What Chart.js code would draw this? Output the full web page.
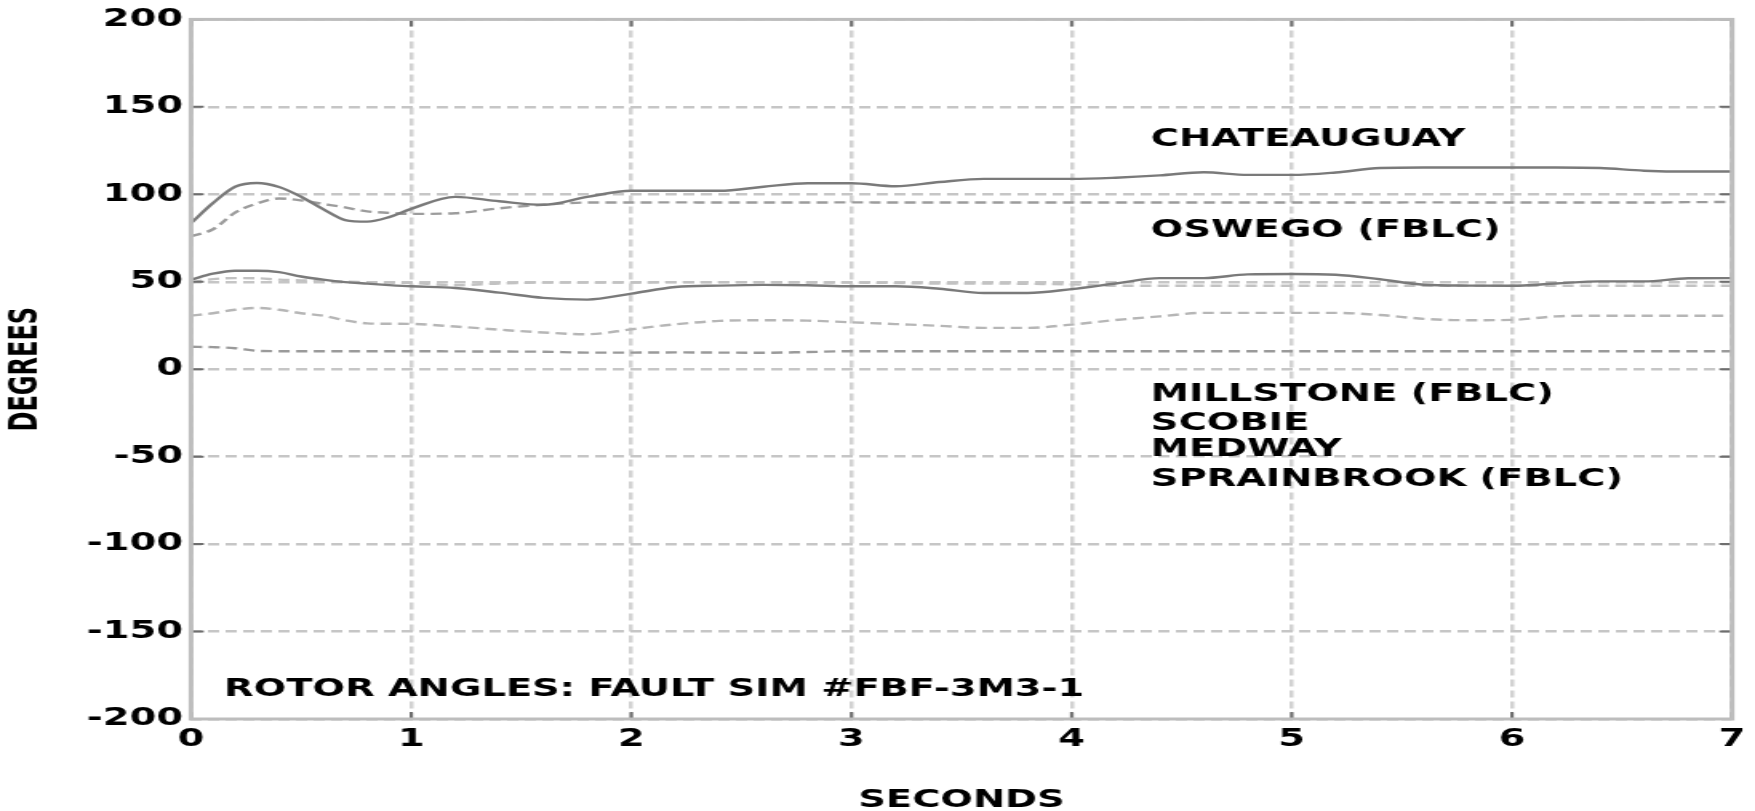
<!DOCTYPE html>
<html><head><meta charset="utf-8">
<script src="https://cdn.jsdelivr.net/npm/chart.js@4"></script>
<style>
html,body{margin:0;padding:0;background:#fff;overflow:hidden;width:1755px;height:811px;}
#wrap{width:1097px;height:811px;transform:scaleX(1.599818);transform-origin:0 0;}
canvas{display:block;}
</style></head><body>
<div id="wrap"><canvas id="c" width="1097" height="811"></canvas></div>
<script>
// ---- data ----
const seconds = [0,0.1,0.2,0.3,0.4,0.5,0.6,0.7,0.8,0.9,1.0,1.2,1.4,1.6,1.8,2.0,2.2,2.4,2.6,2.8,3.0,3.2,3.4,3.6,3.8,4.0,4.2,4.4,4.6,4.8,5.0,5.2,5.4,5.6,5.8,6.0,6.2,6.4,6.6,6.8,7.0];
const chateauguay = [83.5,95,104.3,106.5,104.2,98.6,91.5,85.3,84.4,87,91.7,98.5,96,94,98.5,102,102,102,104.3,106.3,106.3,104.6,107,108.8,108.8,108.8,109.5,110.8,112.6,111.1,111.1,112.5,115,115.3,115.3,115.3,115.3,115,113.5,113,113];
const oswego = [75.9,80,89.5,94.8,97.6,96.5,94.5,92.5,90.2,89.4,88.8,89.2,92,94,95.3,95.3,95.4,95.3,95.3,95.3,95.4,95.3,95.3,95.3,95.3,95.3,95.3,95.3,95.3,95.3,95.3,95.3,95.3,95.4,95.3,95.3,95.3,95.3,95.3,95.5,95.6];
const millstone = [51.2,54.6,56.3,56.3,55.5,53,51.2,49.8,48.9,48.1,47.4,46.4,43.8,40.8,39.8,43.2,47,47.8,48.2,48,47.4,47.4,46,43.6,43.6,45.8,49,52.1,52.1,54.2,54.4,54,51.4,48.3,47.8,47.7,49,50.2,50.2,52,52.1];
const scobie = [49.6,51.5,52.1,52,51.2,50.8,50.4,50.1,49.8,49.5,49.3,48,49,49.5,49.5,49.5,49.8,49.8,49.8,49.6,49.5,49.3,49,49,48.8,48.5,47.7,47.7,47.7,47.7,47.7,47.7,47.7,47.7,47.7,47.7,47.7,47.7,47.7,47.7,47.7];
const medway = [30.6,32,34,35,34,32,30.6,28,26.2,26,25.9,24.4,22.6,21,20,22.8,25.7,27.6,28,27.8,26.8,25.8,24.8,23.6,23.6,25.5,28.1,30.2,32.2,32.2,32.2,32.2,31,28.8,28,28.2,30.2,30.6,30.6,30.6,30.6];
const sprainbrook = [12.8,12.6,12,10.5,10.3,10.3,10.3,10.3,10.3,10.3,10.3,10.2,10.1,10,9.5,9.5,9.6,9.5,9.4,9.8,10.3,10.3,10.3,10.3,10.3,10.3,10.3,10.3,10.3,10.3,10.3,10.3,10.3,10.3,10.3,10.3,10.3,10.3,10.3,10.3,10.3];

const xTicks = [0,1,2,3,4,5,6,7];
const yTicks = [-200,-150,-100,-50,0,50,100,150,200];
const xTitle = 'SECONDS';
const yTitle = 'DEGREES';

const noteTexts = ['CHATEAUGUAY','OSWEGO (FBLC)','MILLSTONE (FBLC)','SCOBIE','MEDWAY','SPRAINBROOK (FBLC)','ROTOR ANGLES: FAULT SIM #FBF-3M3-1'];
const noteSeconds = [4.36,4.36,4.36,4.36,4.36,4.36,0.15];
const noteDegrees = [131.2,79,-14.9,-31.4,-46.3,-63.2,-183.3];

// ---- chart ----
const FONT = "'DejaVu Sans'";
const pts = arr => seconds.map((t,i)=>({x:t,y:arr[i]}));
const series = (data, color, dash) => ({data: pts(data), borderColor: color, borderWidth: 2.4, borderDash: dash, pointRadius: 0, fill: false, cubicInterpolationMode: 'monotone'});

const framePlugin = {
  id: 'frame',
  afterDatasetsDraw(chart) {
    const {ctx, chartArea: a, scales: {x, y}} = chart;
    ctx.save();
    ctx.setLineDash([]);
    ctx.strokeStyle = '#6e6e6e'; ctx.lineWidth = 2;
    ctx.beginPath();
    y.ticks.forEach(t => { const py = y.getPixelForValue(t.value);
      ctx.moveTo(a.left, py); ctx.lineTo(a.left + 8, py);
      ctx.moveTo(a.right - 8, py); ctx.lineTo(a.right, py); });
    x.ticks.forEach(t => { const px = x.getPixelForValue(t.value);
      ctx.moveTo(px, a.bottom); ctx.lineTo(px, a.bottom - 7);
      ctx.moveTo(px, a.top); ctx.lineTo(px, a.top + 7); });
    ctx.stroke();
    ctx.strokeStyle = '#bdbdbd'; ctx.lineWidth = 3;
    ctx.strokeRect(a.left, a.top, a.right - a.left, a.bottom - a.top);
    ctx.restore();
  }
};
const notesPlugin = {
  id: 'notes',
  afterDraw(chart) {
    const {ctx, scales: {x, y}} = chart;
    ctx.save();
    ctx.fillStyle = '#000';
    ctx.font = "bold 24px " + FONT;
    ctx.textAlign = 'left'; ctx.textBaseline = 'middle';
    noteTexts.forEach((txt, i) => ctx.fillText(txt, x.getPixelForValue(noteSeconds[i]), y.getPixelForValue(noteDegrees[i])));
    ctx.restore();
  }
};

const tickFont = {family: FONT, size: 24, weight: 'bold'};
new Chart(document.getElementById('c'), {
  type: 'line',
  data: {
    datasets: [
      series(chateauguay, '#7a7a7a', []),
      series(oswego, '#9c9c9c', [7,4]),
      series(millstone, '#7a7a7a', []),
      series(scobie, '#c2c2c2', [7,4]),
      series(medway, '#b6b6b6', [7,4]),
      series(sprainbrook, '#9a9a9a', [7,4])
    ]
  },
  options: {
    responsive: false, animation: false, devicePixelRatio: 1,
    layout: {padding: {left: 0, top: 18, right: 9, bottom: 0}},
    plugins: {legend: {display: false}, tooltip: {enabled: false}},
    scales: {
      x: {
        type: 'linear', min: 0, max: 7,
        afterBuildTicks: s => { s.ticks = xTicks.map(v => ({value: v})); },
        grid: {color: '#d2d2d2', lineWidth: 2.5, drawTicks: false},
        border: {display: false, dash: [7,4]},
        ticks: {padding: 6, color: '#000', font: tickFont, maxRotation: 0, autoSkip: false, callback: v => String(v)},
        title: {display: true, text: xTitle, color: '#000', font: tickFont, padding: {top: 0, bottom: -4}},
        afterFit: s => { s.height = 92; }
      },
      y: {
        type: 'linear', min: -200, max: 200,
        afterBuildTicks: s => { s.ticks = yTicks.map(v => ({value: v})); },
        grid: {color: '#c6c6c6', lineWidth: 2.5, drawTicks: false},
        border: {display: false, dash: [7,4]},
        ticks: {padding: 5, color: '#000', font: tickFont, autoSkip: false, callback: v => String(v)},
        title: {display: true, text: yTitle, color: '#000', font: tickFont, padding: {top: 2.5, bottom: 0}},
        afterFit: s => { s.width = 119.4; }
      }
    }
  },
  plugins: [framePlugin, notesPlugin]
});
</script>
</body></html>
